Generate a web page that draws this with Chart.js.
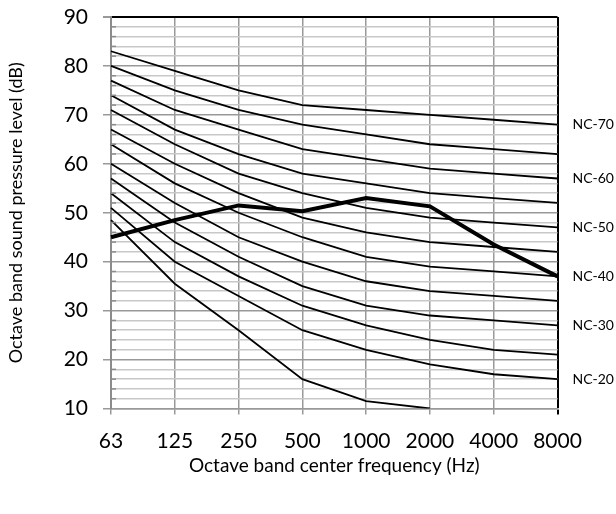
<!DOCTYPE html>
<html><head><meta charset="utf-8">
<script src="https://cdn.jsdelivr.net/npm/chart.js@4/dist/chart.umd.min.js"></script>
<style>html,body{margin:0;padding:0;background:#fff}#wrap{width:616px;height:514px;position:relative}</style>
</head><body><div id="wrap"><canvas id="c"></canvas></div>
<script>
const frequencies = ['63','125','250','500','1000','2000','4000','8000'];
const nc15 = [48.5,35.5,26,16,11.5,10,null,null];
const nc20 = [51,40,33,26,22,19,17,16];
const nc25 = [54,44,37,31,27,24,22,21];
const nc30 = [57,48,41,35,31,29,28,27];
const nc35 = [60,52,45,40,36,34,33,32];
const nc40 = [64,56,50,45,41,39,38,37];
const nc45 = [67,60,54,49,46,44,43,42];
const nc50 = [71,64,58,54,51,49,48,47];
const nc55 = [74,67,62,58,56,54,53,52];
const nc60 = [77,71,67,63,61,59,58,57];
const nc65 = [80,75,71,68,66,64,63,62];
const nc70 = [83,79,75,72,71,70,69,68];
const measured = [45,48.5,51.5,50.3,53,51.3,43.5,37];
const ncLabels = ['NC-70','NC-60','NC-50','NC-40','NC-30','NC-20'];
const ncLabelCurves = [nc70,nc60,nc50,nc40,nc30,nc20];

const FONT = 'Lato, "Open Sans", sans-serif';
const curves = [nc15,nc20,nc25,nc30,nc35,nc40,nc45,nc50,nc55,nc60,nc65,nc70];
const datasets = curves.map(d => ({data:d, borderColor:'#000', borderWidth:1.8, pointRadius:0, tension:0, fill:false, yAxisID:'y'}));
datasets.push({data:measured, borderColor:'#000', borderWidth:4, pointRadius:0, tension:0, fill:false, yAxisID:'y'});

const minorTicks = {
  id:'minorTicks',
  afterDraw(chart){
    const s = chart.scales.y, ctx = chart.ctx;
    ctx.save(); ctx.strokeStyle = '#8c8c8c'; ctx.lineWidth = 1.5;
    s.ticks.forEach(t => {
      if (t.value % 10 !== 0) {
        const y = s.getPixelForValue(t.value);
        ctx.beginPath(); ctx.moveTo(s.right, y); ctx.lineTo(s.right + 5, y); ctx.stroke();
      }
    });
    ctx.restore();
  }
};

function noVPad(s){ s.paddingTop = 0; s.paddingBottom = 0; }

new Chart(document.getElementById('c'), {
  type:'line',
  data:{labels:frequencies, datasets},
  plugins:[minorTicks],
  options:{
    responsive:true, maintainAspectRatio:false, animation:false, devicePixelRatio:1,
    layout:{padding:{top:17,left:0,right:0,bottom:0}},
    plugins:{legend:{display:false}, tooltip:{enabled:false}},
    scales:{
      x:{
        type:'category', offset:false,
        ticks:{font:{family:FONT,size:21}, color:'#000', padding:14, maxRotation:0, autoSkip:false},
        grid:{color:c => c.index===7?'#000':'#999', lineWidth:c => c.index===7?2:1.5, tickLength:6,
              tickColor:c => c.index===7?'#000':'#999'},
        border:{color:'#999', width:1.5},
        title:{display:true, text:'Octave band center frequency (Hz)', font:{family:FONT,size:19}, color:'#000', padding:{top:0,bottom:37}},
        afterFit:s => { s.height = 105.5; }
      },
      y:{
        type:'linear', position:'left', min:10, max:90,
        ticks:{stepSize:2, autoSkip:false, callback:v => v%10===0 ? v : '', font:{family:FONT,size:21}, color:'#000', padding:15},
        grid:{color:c => c.tick.value===90?'#000':(c.tick.value%10===0?'#999':'#c8c8c8'),
              lineWidth:c => c.tick.value===90?2:1.5, tickLength:8,
              tickColor:c => c.tick.value%10===0?'#999':'rgba(0,0,0,0)'},
        border:{color:'#8c8c8c', width:2},
        title:{display:true, text:'Octave band sound pressure level (dB)', font:{family:FONT,size:18}, color:'#000', padding:{top:5,bottom:0}},
        afterFit:s => { s.width = 111; noVPad(s); }
      },
      yR:{
        type:'linear', position:'right', min:10, max:90,
        afterBuildTicks:s => { s.ticks = ncLabelCurves.map(c => ({value:c[c.length-1]})); },
        ticks:{autoSkip:false, callback:(v,i) => ncLabels[i], font:{family:FONT,size:14}, color:'#000', padding:15},
        grid:{display:false, drawTicks:false}, border:{display:false},
        afterFit:s => { s.width = 58.5; noVPad(s); }
      }
    }
  }
});
</script></body></html>
